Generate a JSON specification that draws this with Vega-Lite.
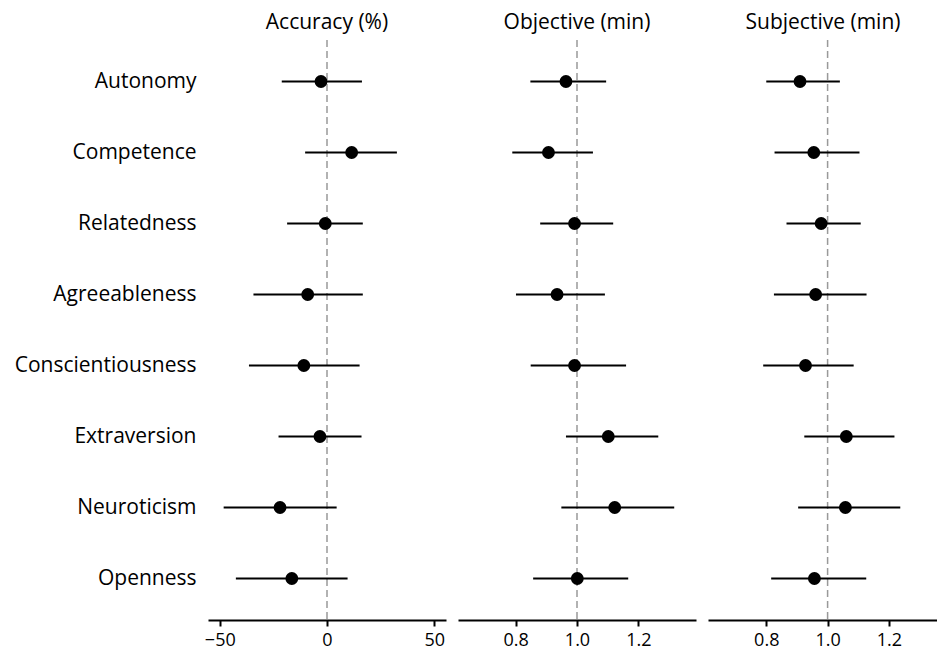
{
  "$schema": "https://vega.github.io/schema/vega-lite/v6.json",
  "padding": {"left": 14, "top": 12, "right": 0, "bottom": 0},
  "background": "white",
  "config": {
    "font": "Open Sans",
    "view": {"stroke": null},
    "concat": {"spacing": 12},
    "title": {"fontSize": 21, "fontWeight": "normal", "color": "black", "offset": 6, "anchor": "middle"},
    "axisX": {"title": null, "grid": false, "domainColor": "black", "domainWidth": 2, "tickColor": "black", "tickWidth": 2, "tickSize": 6, "labelFontSize": 18, "labelColor": "black", "labelPadding": 5},
    "axisY": {"title": null, "grid": false, "domain": false, "ticks": false, "labelFontSize": 21, "labelColor": "black", "labelPadding": 12, "labelLimit": 400}
  },
  "datasets": {
    "acc": [
      {"label": "Autonomy", "lo": -21.1, "est": -2.8, "hi": 16.3},
      {"label": "Competence", "lo": -10.2, "est": 11.5, "hi": 32.6},
      {"label": "Relatedness", "lo": -18.6, "est": -0.8, "hi": 16.7},
      {"label": "Agreeableness", "lo": -34.3, "est": -9.0, "hi": 16.7},
      {"label": "Conscientiousness", "lo": -36.4, "est": -10.8, "hi": 15.2},
      {"label": "Extraversion", "lo": -22.6, "est": -3.3, "hi": 16.1},
      {"label": "Neuroticism", "lo": -48.2, "est": -21.9, "hi": 4.5},
      {"label": "Openness", "lo": -42.5, "est": -16.4, "hi": 9.6}
    ],
    "obj": [
      {"label": "Autonomy", "lo": 0.848, "est": 0.964, "hi": 1.095},
      {"label": "Competence", "lo": 0.789, "est": 0.907, "hi": 1.052},
      {"label": "Relatedness", "lo": 0.880, "est": 0.992, "hi": 1.118},
      {"label": "Agreeableness", "lo": 0.801, "est": 0.935, "hi": 1.091},
      {"label": "Conscientiousness", "lo": 0.849, "est": 0.992, "hi": 1.160},
      {"label": "Extraversion", "lo": 0.964, "est": 1.102, "hi": 1.265},
      {"label": "Neuroticism", "lo": 0.949, "est": 1.123, "hi": 1.317},
      {"label": "Openness", "lo": 0.857, "est": 1.001, "hi": 1.167}
    ],
    "subj": [
      {"label": "Autonomy", "lo": 0.800, "est": 0.910, "hi": 1.040},
      {"label": "Competence", "lo": 0.827, "est": 0.955, "hi": 1.104},
      {"label": "Relatedness", "lo": 0.866, "est": 0.979, "hi": 1.108},
      {"label": "Agreeableness", "lo": 0.825, "est": 0.961, "hi": 1.127},
      {"label": "Conscientiousness", "lo": 0.790, "est": 0.928, "hi": 1.085},
      {"label": "Extraversion", "lo": 0.924, "est": 1.061, "hi": 1.218},
      {"label": "Neuroticism", "lo": 0.904, "est": 1.058, "hi": 1.237},
      {"label": "Openness", "lo": 0.816, "est": 0.957, "hi": 1.126}
    ]
  },
  "hconcat": [
    {
      "width": 238, "height": 580,
      "title": {"text": "Accuracy (%)"},
      "layer": [
        {
          "data": {"values": [{"ref": 0}]},
          "mark": {"type": "rule", "color": "#999999", "strokeDash": [7, 4], "strokeWidth": 1.5},
          "encoding": {"x": {"field": "ref", "type": "quantitative", "scale": {"domain": [-55.5, 55.5], "nice": false, "zero": false}, "axis": {"values": [-50, 0, 50]}}}
        },
        {
          "data": {"name": "acc"},
          "mark": {"type": "rule", "color": "black", "strokeWidth": 2},
          "encoding": {
            "y": {"field": "label", "type": "nominal", "sort": null, "scale": {"type": "point", "padding": 0.584}},
            "x": {"field": "lo", "type": "quantitative"},
            "x2": {"field": "hi"}
          }
        },
        {
          "data": {"name": "acc"},
          "mark": {"type": "circle", "color": "black", "opacity": 1, "size": 165},
          "encoding": {
            "y": {"field": "label", "type": "nominal", "sort": null, "scale": {"type": "point", "padding": 0.584}},
            "x": {"field": "est", "type": "quantitative"}
          }
        }
      ]
    },
    {
      "width": 238, "height": 580,
      "title": {"text": "Objective (min)"},
      "layer": [
        {
          "data": {"values": [{"ref": 1}]},
          "mark": {"type": "rule", "color": "#999999", "strokeDash": [7, 4], "strokeWidth": 1.5},
          "encoding": {"x": {"field": "ref", "type": "quantitative", "scale": {"domain": [0.612, 1.388], "nice": false, "zero": false}, "axis": {"values": [0.8, 1.0, 1.2], "format": ".1f"}}}
        },
        {
          "data": {"name": "obj"},
          "mark": {"type": "rule", "color": "black", "strokeWidth": 2},
          "encoding": {
            "y": {"field": "label", "type": "nominal", "sort": null, "scale": {"type": "point", "padding": 0.584}, "axis": null},
            "x": {"field": "lo", "type": "quantitative"},
            "x2": {"field": "hi"}
          }
        },
        {
          "data": {"name": "obj"},
          "mark": {"type": "circle", "color": "black", "opacity": 1, "size": 165},
          "encoding": {
            "y": {"field": "label", "type": "nominal", "sort": null, "scale": {"type": "point", "padding": 0.584}, "axis": null},
            "x": {"field": "est", "type": "quantitative"}
          }
        }
      ]
    },
    {
      "width": 230, "height": 580,
      "title": {"text": "Subjective (min)"},
      "layer": [
        {
          "data": {"values": [{"ref": 1}]},
          "mark": {"type": "rule", "color": "#999999", "strokeDash": [7, 4], "strokeWidth": 1.5},
          "encoding": {"x": {"field": "ref", "type": "quantitative", "scale": {"domain": [0.61, 1.36], "nice": false, "zero": false}, "axis": {"values": [0.8, 1.0, 1.2], "format": ".1f"}}}
        },
        {
          "data": {"name": "subj"},
          "mark": {"type": "rule", "color": "black", "strokeWidth": 2},
          "encoding": {
            "y": {"field": "label", "type": "nominal", "sort": null, "scale": {"type": "point", "padding": 0.584}, "axis": null},
            "x": {"field": "lo", "type": "quantitative"},
            "x2": {"field": "hi"}
          }
        },
        {
          "data": {"name": "subj"},
          "mark": {"type": "circle", "color": "black", "opacity": 1, "size": 165},
          "encoding": {
            "y": {"field": "label", "type": "nominal", "sort": null, "scale": {"type": "point", "padding": 0.584}, "axis": null},
            "x": {"field": "est", "type": "quantitative"}
          }
        }
      ]
    }
  ]
}
